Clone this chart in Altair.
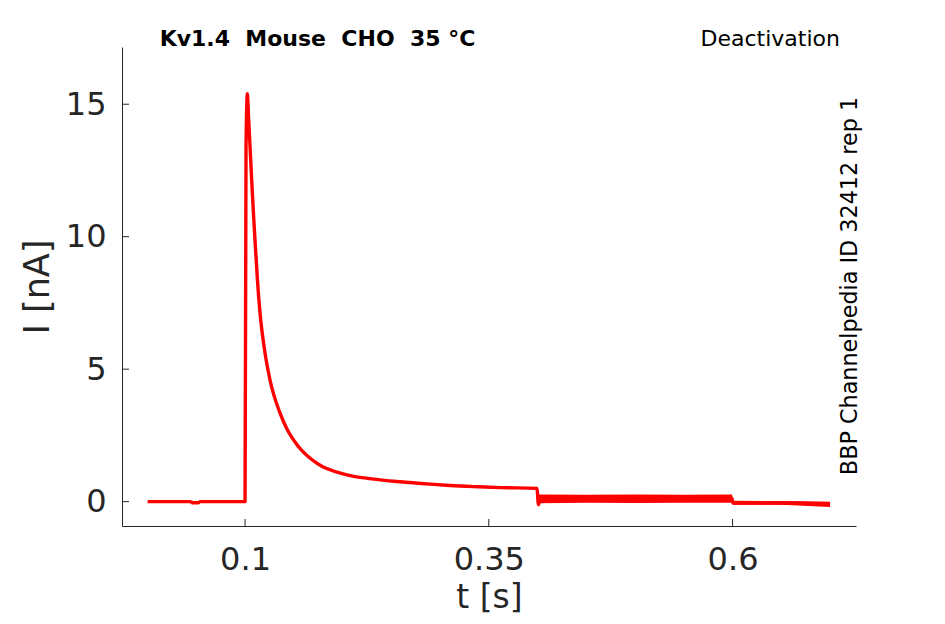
import altair as alt
import pandas as pd

# Main current trace (time in s, current in nA)
t_vals = [0.0, 0.044, 0.046, 0.052, 0.054, 0.0995, 0.1000, 0.1010, 0.1024, 0.1034,
          0.1051, 0.1068, 0.1086, 0.1106, 0.1127, 0.1154, 0.1195, 0.1256, 0.1359,
          0.1434, 0.1547, 0.1735, 0.2043, 0.2300, 0.2590, 0.2900, 0.3100, 0.3400,
          0.3615, 0.3995, 0.4003, 0.4008, 0.4030, 0.4500, 0.5000, 0.5500, 0.5995,
          0.6002, 0.6500, 0.7000]
i_vals = [0.0, 0.0, -0.04, -0.04, 0.0, 0.0, 0.0, 13.4, 15.4, 14.66,
          13.4, 12.14, 10.89, 9.63, 8.37, 7.11, 5.85, 4.59, 3.34,
          2.71, 2.08, 1.45, 1.01, 0.86, 0.75, 0.66, 0.61, 0.56,
          0.53, 0.5, 0.1, -0.12, 0.08, 0.1, 0.1, 0.1, 0.12,
          -0.05, -0.05, -0.08]

# Spread of the overlapping sweeps after the step at 0.4 s
band_t = [0.4005, 0.45, 0.50, 0.55, 0.5995, 0.6005, 0.65, 0.70]
band_lo = [-0.06, -0.04, -0.05, -0.04, -0.04, -0.12, -0.12, -0.20]
band_hi = [0.27, 0.26, 0.27, 0.26, 0.27, 0.03, 0.02, 0.0]

x_ticks = [0.1, 0.35, 0.6]
y_ticks = [0, 5, 10, 15]

X_DOMAIN = [-0.0262, 0.7266]
Y_DOMAIN = [-0.92, 17.16]
W, H = 734, 479
RED = "#ff0000"
INK = "#262626"

trace = pd.DataFrame({"t": t_vals, "I": i_vals})
band = pd.DataFrame({"t": band_t, "lo": band_lo, "hi": band_hi})
xt = pd.DataFrame({"t": x_ticks})
yt = pd.DataFrame({"I": y_ticks})

x_axis = alt.Axis(values=x_ticks, format=".2~f", title="t [s]", ticks=False, tickSize=0,
                  grid=False, labelPadding=18, titlePadding=6, titleFontSize=33)
y_axis = alt.Axis(values=y_ticks, format="d", title="I [nA]", ticks=False, tickSize=0,
                  grid=False, labelPadding=16, titlePadding=10)
xs = alt.Scale(domain=X_DOMAIN, nice=False, zero=False)
ys = alt.Scale(domain=Y_DOMAIN, nice=False, zero=False)

band_layer = alt.Chart(band).mark_area(color=RED, opacity=1).encode(
    x=alt.X("t:Q", scale=xs, axis=x_axis),
    y=alt.Y("lo:Q", scale=ys, axis=y_axis),
    y2="hi:Q",
)

line_layer = alt.Chart(trace).mark_line(
    color=RED, strokeWidth=3.4, strokeJoin="round", interpolate="monotone"
).encode(
    x=alt.X("t:Q", scale=xs, axis=x_axis),
    y=alt.Y("I:Q", scale=ys, axis=y_axis),
    order=alt.Order("t:Q"),
)

xtick_layer = alt.Chart(xt).mark_rule(color=INK, strokeWidth=1).encode(
    x=alt.X("t:Q", scale=xs, axis=x_axis),
    y=alt.value(H),
    y2=alt.value(H - 7),
)

ytick_layer = alt.Chart(yt).mark_rule(color=INK, strokeWidth=1).encode(
    y=alt.Y("I:Q", scale=ys, axis=y_axis),
    x=alt.value(0),
    x2=alt.value(7),
)

dummy = alt.Data(values=[{}])

title_text = alt.Chart(dummy).mark_text(
    text="Kv1.4 \u00a0Mouse \u00a0CHO \u00a035 °C", font="DejaVu Sans", fontSize=22,
    fontWeight="bold", color="#000000", align="center", baseline="alphabetic",
).encode(x=alt.value(195.5), y=alt.value(-1))

deact_text = alt.Chart(dummy).mark_text(
    text="Deactivation", font="DejaVu Sans", fontSize=22, color="#000000",
    align="right", baseline="alphabetic",
).encode(x=alt.value(718), y=alt.value(-1))

id_text = alt.Chart(dummy).mark_text(
    text="BBP Channelpedia ID 32412 rep 1", font="DejaVu Sans", fontSize=22.3,
    color="#000000", align="center", baseline="alphabetic", angle=270,
).encode(x=alt.value(735), y=alt.value(239))

chart = alt.layer(
    band_layer, line_layer, xtick_layer, ytick_layer, title_text, deact_text, id_text
).properties(
    width=W, height=H,
    autosize=alt.AutoSizeParams(type="none"),
    padding={"left": 114, "top": 39, "right": 81, "bottom": 90},
).configure(background="white").configure_view(stroke=None).configure_axis(
    domainColor=INK, domainWidth=1, labelColor=INK, titleColor=INK,
    labelFont="DejaVu Sans", titleFont="DejaVu Sans", labelFontSize=32,
    titleFontSize=35, titleFontWeight="normal",
)

chart.save("out.html", embed_options={"renderer": "svg", "actions": False})
